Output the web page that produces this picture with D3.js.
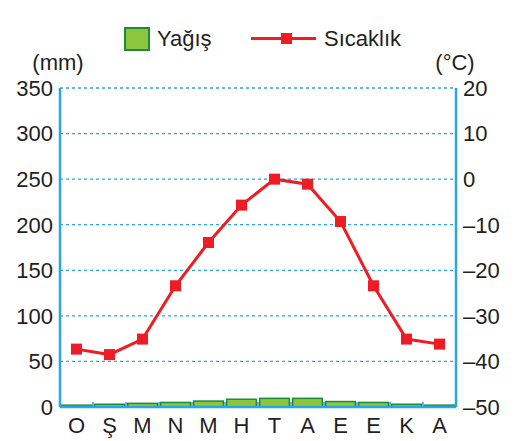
<!DOCTYPE html>
<html><head><meta charset="utf-8">
<script src="https://cdn.jsdelivr.net/npm/d3@7/dist/d3.min.js"></script>
<style>body{margin:0;background:#fff}text{font-family:"Liberation Sans",Arial,sans-serif;fill:#231f20}</style>
</head><body><svg id="c" width="520" height="441"></svg>
<script>
const months = ["O","Ş","M","N","M","H","T","A","E","E","K","A"];
const precipitation = [2,3,4,5,6.5,8.5,9.5,9.5,6,5,3,2];
const temperature = [-37.3,-38.5,-35.1,-23.4,-13.9,-5.7,0,-1.1,-9.3,-23.4,-35.1,-36.2];
const leftTicks = [0,50,100,150,200,250,300,350];
const rightTicks = [-50,-40,-30,-20,-10,0,10,20];

const svg = d3.select("#c");
const L = 60, R = 456, T = 88, B = 407;
const blue = "#2aa6e6", red = "#ee1c25";
const x = d3.scaleBand().domain(d3.range(12)).range([L, R]).paddingInner(0.1).paddingOuter(0.05);
const xb = d3.scaleBand().domain(d3.range(12)).range([L, R]);
const yL = d3.scaleLinear().domain([0, 350]).range([B, T]);
const yR = d3.scaleLinear().domain([-50, 20]).range([B, T]);

// gridlines
svg.append("g").selectAll("line").data(leftTicks.filter(d => d > 0)).join("line")
  .attr("x1", L).attr("x2", R).attr("y1", d => yL(d)).attr("y2", d => yL(d))
  .attr("stroke", blue).attr("stroke-width", 1.3).attr("stroke-dasharray", "3,3");

// bars
svg.append("g").selectAll("rect").data(precipitation).join("rect")
  .attr("x", (d, i) => x(i)).attr("width", x.bandwidth())
  .attr("y", d => yL(d)).attr("height", d => B - yL(d))
  .attr("fill", "#8cc63f").attr("stroke", "#1f8a3b").attr("stroke-width", 1.5);

// axes
const ax = svg.append("g");
ax.append("line").attr("x1", L).attr("x2", L).attr("y1", T).attr("y2", B).attr("stroke", blue).attr("stroke-width", 2.5);
ax.append("line").attr("x1", R).attr("x2", R).attr("y1", T).attr("y2", B).attr("stroke", blue).attr("stroke-width", 2.5);
ax.append("line").attr("x1", L).attr("x2", R).attr("y1", B).attr("y2", B).attr("stroke", blue).attr("stroke-width", 2.5);
ax.selectAll(".bt").data(d3.range(1, 12)).join("line")
  .attr("x1", d => xb(d)).attr("x2", d => xb(d)).attr("y1", B).attr("y2", B - 5)
  .attr("stroke", blue).attr("stroke-width", 1.5);

// left labels
svg.append("g").selectAll("text").data(leftTicks).join("text")
  .attr("x", 53).attr("y", d => yL(d)).attr("dy", "0.36em").attr("text-anchor", "end")
  .attr("font-size", 22).text(d => d);
// right labels
svg.append("g").selectAll("text").data(rightTicks).join("text")
  .attr("x", 463).attr("y", d => yR(d)).attr("dy", "0.36em").attr("text-anchor", "start")
  .attr("font-size", 22).text(d => d < 0 ? "–" + Math.abs(d) : d);
// x labels
svg.append("g").selectAll("text").data(months).join("text")
  .attr("x", (d, i) => xb(i) + xb.bandwidth() / 2).attr("y", 433).attr("text-anchor", "middle")
  .attr("font-size", 22).text(d => d);

svg.append("text").attr("x", 58).attr("y", 70).attr("text-anchor", "middle").attr("font-size", 22).text("(mm)");
svg.append("text").attr("x", 455).attr("y", 70).attr("text-anchor", "middle").attr("font-size", 22).text("(°C)");

// line
const line = d3.line().x((d, i) => xb(i) + xb.bandwidth() / 2).y(d => yR(d));
svg.append("path").datum(temperature).attr("d", line).attr("fill", "none").attr("stroke", red).attr("stroke-width", 3);
svg.append("g").selectAll("rect").data(temperature).join("rect")
  .attr("x", (d, i) => xb(i) + xb.bandwidth() / 2 - 5.5).attr("y", d => yR(d) - 5.5)
  .attr("width", 11).attr("height", 11).attr("fill", red);

// legend
const lg = svg.append("g");
lg.append("rect").attr("x", 125).attr("y", 28).attr("width", 24).attr("height", 22)
  .attr("fill", "#8cc63f").attr("stroke", "#1f8a3b").attr("stroke-width", 2);
lg.append("text").attr("x", 157).attr("y", 46).attr("font-size", 22).text("Yağış");
lg.append("line").attr("x1", 251).attr("x2", 316).attr("y1", 38.5).attr("y2", 38.5).attr("stroke", red).attr("stroke-width", 3);
lg.append("rect").attr("x", 281).attr("y", 33).attr("width", 11).attr("height", 11).attr("fill", red);
lg.append("text").attr("x", 324).attr("y", 46).attr("font-size", 22).text("Sıcaklık");
</script></body></html>
